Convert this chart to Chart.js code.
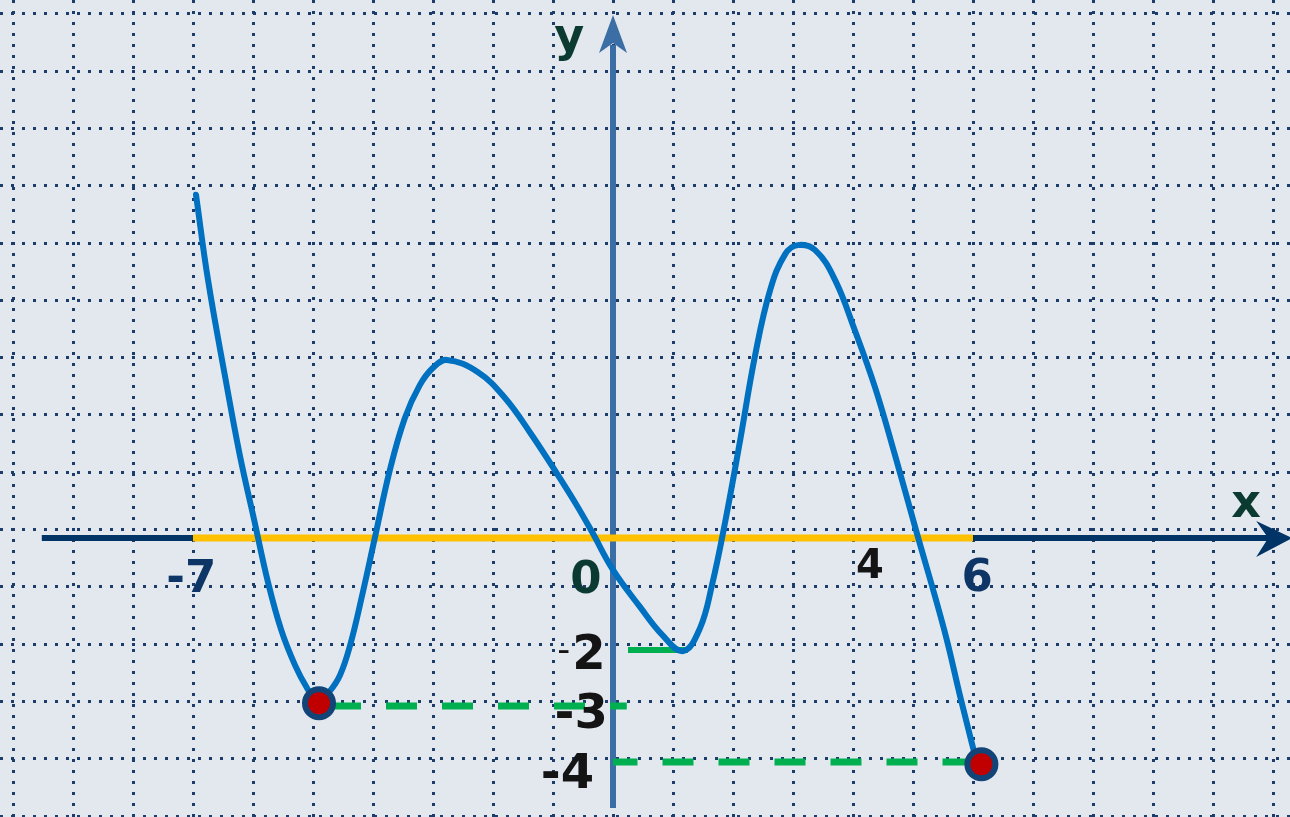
<!DOCTYPE html>
<html>
<head>
<meta charset="utf-8">
<script src="https://cdn.jsdelivr.net/npm/chart.js@4"></script>
<style>
body{margin:0;background:#e3e8ef}
canvas{display:block}
</style>
</head>
<body>
<canvas id="grafico" width="1290" height="817"></canvas>
<script>

let curvaX = [-6.95, -6.75, -6.47, -6.22, -5.98, -5.75, -5.53, -5.3, -5.1, -4.92, -4.73, -4.55, -4.38, -4.18, -3.97, -3.72, -3.47, -3.22, -3.0, -2.77, -2.25, -1.8, -1.38, -0.97, -0.63, -0.35, 0, 0.45, 0.82, 1.17, 1.45, 1.65, 1.87, 2.12, 2.37, 2.62, 2.87, 3.08, 3.37, 3.7, 4.03, 4.37, 4.7, 5.05, 5.52, 5.8, 6.07]
let curvaY = [6.13, 4.61, 2.91, 1.48, 0.32, -0.79, -1.64, -2.27, -2.68, -2.95, -2.75, -2.45, -1.91, -1.02, 0, 1.21, 2.14, 2.73, 3.04, 3.18, 2.96, 2.5, 1.88, 1.21, 0.63, 0.11, -0.57, -1.23, -1.73, -2.02, -1.61, -0.84, 0.29, 1.75, 3.27, 4.43, 5.07, 5.23, 5.14, 4.61, 3.71, 2.68, 1.48, 0.14, -1.64, -2.89, -4.04]

let dominioX = [-7, 6]

let pontosX = [-4.9, 6.14]
let pontosY = [-2.95, -4.04]

let tracoX1 = [-4.9, 0.23]
let tracoX2 = [0, 6.14]
let segX = [0.25, 1.25]

let rotulos = [
{t:"-7", x:-7.03, y:-0.96, f:"bold 45px 'DejaVu Sans'", c:"#0d3566"},
{t:"0", x:-0.45, y:-0.98, f:"bold 45px 'DejaVu Sans'", c:"#0a3a32"},
{t:"4", x:4.28, y:-0.71, f:"bold 40px 'DejaVu Sans'", c:"#141414"},
{t:"6", x:6.07, y:-0.95, f:"bold 45px 'DejaVu Sans'", c:"#0d3566"},
{t:"-", x:-0.82, y:-2.2, f:"36px 'DejaVu Sans'", c:"#141414"},
{t:"2", x:-0.4, y:-2.34, f:"bold 48px 'DejaVu Sans'", c:"#141414"},
{t:"-3", x:-0.53, y:-3.39, f:"bold 48px 'DejaVu Sans'", c:"#141414"},
{t:"-4", x:-0.76, y:-4.46, f:"bold 48px 'DejaVu Sans'", c:"#141414"},
{t:"y", x:-0.73, y:8.7, f:"bold 46px 'DejaVu Sans'", c:"#0a3a30"},
{t:"x", x:10.55, y:0.375, f:"bold 46px 'DejaVu Sans'", c:"#0a3a30"}
]

let soInteiros = s => {
s.ticks = []
for (let k = Math.ceil(s.min); k <= Math.floor(s.max); k++) s.ticks.push({value:k})
}

let fundo = {
id:"fundo",
beforeDraw(chart){
let c = chart.ctx
c.save()
c.fillStyle = "#e3e8ef"
c.fillRect(0,0,chart.width,chart.height)
c.restore()
}
}

let eixos = {
id:"eixos",
beforeDatasetsDraw(chart){
let c = chart.ctx
let sx = chart.scales.x, sy = chart.scales.y
let x0 = sx.getPixelForValue(0), y0 = sy.getPixelForValue(0)
c.save()
// eixo x
let xa = sx.getPixelForValue(-9.52), xb = sx.getPixelForValue(11.32)
c.strokeStyle = "#003366"
c.fillStyle = "#003366"
c.lineWidth = 6
c.beginPath(); c.moveTo(xa,y0); c.lineTo(xb-22,y0); c.stroke()
c.beginPath(); c.moveTo(xb,y0); c.lineTo(xb-36,y0-17); c.lineTo(xb-24,y0); c.lineTo(xb-36,y0+19); c.closePath(); c.fill()
// eixo y
let ya = sy.getPixelForValue(-4.82), yb = sy.getPixelForValue(9.34)
c.strokeStyle = "#3b6ea5"
c.fillStyle = "#3b6ea5"
c.beginPath(); c.moveTo(x0,ya); c.lineTo(x0,yb+30); c.stroke()
c.beginPath(); c.moveTo(x0,yb); c.lineTo(x0+14,yb+38); c.lineTo(x0,yb+28); c.lineTo(x0-14,yb+38); c.closePath(); c.fill()
c.restore()
}
}

let textos = {
id:"textos",
afterDraw(chart){
let c = chart.ctx
let sx = chart.scales.x, sy = chart.scales.y
c.save()
c.textAlign = "center"
c.textBaseline = "alphabetic"
rotulos.forEach(r => {
c.font = r.f
c.fillStyle = r.c
c.fillText(r.t, sx.getPixelForValue(r.x), sy.getPixelForValue(r.y))
})
c.restore()
}
}

let ctx = document.getElementById("grafico").getContext("2d")

let grafico = new Chart(ctx, {
type:"scatter",
data:{
datasets:[
{
data: pontosX.map((x,i)=>({x:x, y:pontosY[i]})),
pointRadius:14,
pointBorderWidth:6,
pointBackgroundColor:"#c00000",
pointBorderColor:"#134477",
showLine:false,
order:0
},
{
data: curvaX.map((x,i)=>({x:x, y:curvaY[i]})),
showLine:true,
borderColor:"#0070c0",
borderWidth:6,
pointRadius:0,
tension:0.4,
borderCapStyle:"round",
borderJoinStyle:"round",
order:1
},
{
data: tracoX1.map(x=>({x:x, y:-3})),
showLine:true,
borderColor:"#00b050",
borderWidth:7,
borderDash:[31,25],
borderDashOffset:45,
pointRadius:0,
order:2
},
{
data: tracoX2.map(x=>({x:x, y:-4})),
showLine:true,
borderColor:"#00b050",
borderWidth:7,
borderDash:[31,25],
borderDashOffset:6.5,
pointRadius:0,
order:2
},
{
data: segX.map(x=>({x:x, y:-2})),
showLine:true,
borderColor:"#00b050",
borderWidth:6,
pointRadius:0,
order:2
},
{
data: dominioX.map(x=>({x:x, y:0})),
showLine:true,
borderColor:"#ffc000",
borderWidth:7,
pointRadius:0,
order:3
}
]
},
options:{
responsive:false,
animation:false,
devicePixelRatio:1,
layout:{padding:0, autoPadding:false},
plugins:{legend:{display:false}, tooltip:{enabled:false}},
scales:{
x:{
type:"linear",
min:-613/60,
max:(1290-613)/60,
ticks:{display:false},
afterBuildTicks:soInteiros,
grid:{color:"#1c3c6a", lineWidth:3, drawTicks:false},
border:{display:false, dash:[3,8]}
},
y:{
type:"linear",
display:false,
min:-(817-538)/56,
max:538/56
},
gy:{
type:"linear",
position:"right",
min:-1/57.3,
max:816/57.3,
ticks:{display:false},
afterBuildTicks:soInteiros,
grid:{color:"#1c3c6a", lineWidth:3, drawTicks:false},
border:{display:false, dash:[3,8]}
}
}
},
plugins:[fundo, eixos, textos]
})

</script>
</body>
</html>
